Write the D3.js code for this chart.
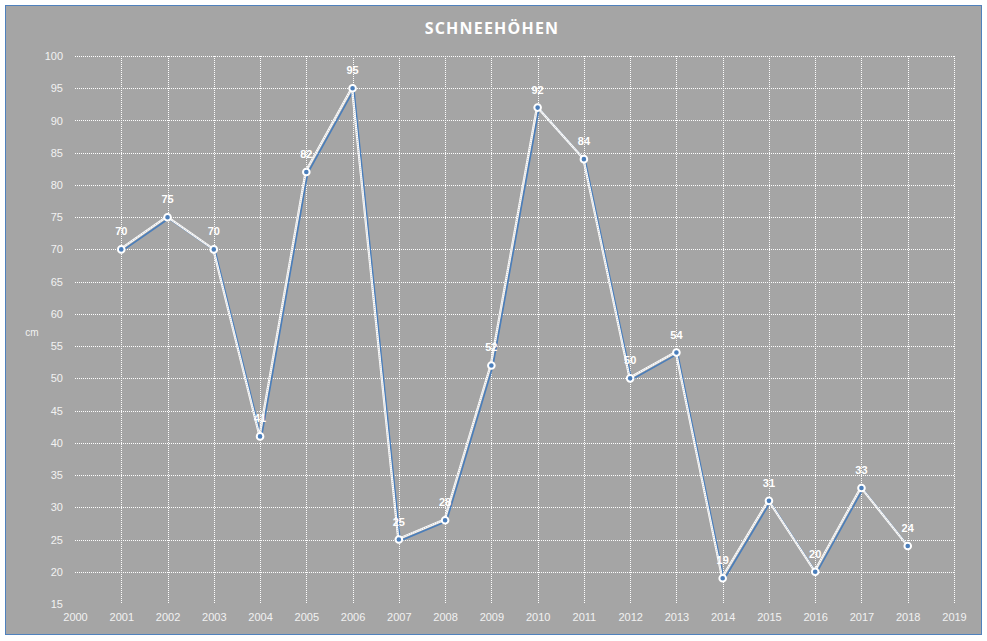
<!DOCTYPE html>
<html><head><meta charset="utf-8">
<script src="https://cdn.jsdelivr.net/npm/d3@7"></script>
<style>html,body{margin:0;padding:0;background:#fff;}svg{display:block;}</style>
</head><body>
<svg id="chart" width="987" height="641"></svg>
<script>
const title = "SCHNEEHÖHEN";
const yAxisLabel = "cm";
const years = [2001,2002,2003,2004,2005,2006,2007,2008,2009,2010,2011,2012,2013,2014,2015,2016,2017,2018];
const snowDepth = [70,75,70,41,82,95,25,28,52,92,84,50,54,19,31,20,33,24];
const xTicks = d3.range(2000, 2020);
const yTicks = d3.range(15, 101, 5);

const svg = d3.select("#chart");
const font = "'Liberation Sans', Arial, sans-serif";
const txt = "#f2f2f2";
const blue = "#4a7ebb";

svg.append("rect").attr("x",5.5).attr("y",5.5).attr("width",976).attr("height",629)
  .attr("fill","#a5a5a5").attr("stroke","#4f81bd").attr("stroke-width",1);

const x = d3.scaleLinear().domain([2000,2019]).range([75,954]);
const y = d3.scaleLinear().domain([15,100]).range([604,56]);

// gridlines
const g = svg.append("g");
g.selectAll("line.h").data(yTicks.filter(d=>d>15)).join("line")
  .attr("x1",75).attr("x2",954).attr("y1",d=>Math.round(y(d))+0.5).attr("y2",d=>Math.round(y(d))+0.5)
  .attr("stroke","#fff").attr("stroke-width",1).attr("stroke-dasharray","1,1");
g.selectAll("line.v").data(xTicks.filter(d=>d>2000)).join("line")
  .attr("y1",56).attr("y2",604).attr("x1",d=>Math.round(x(d))+0.5).attr("x2",d=>Math.round(x(d))+0.5)
  .attr("stroke","#fff").attr("stroke-width",1).attr("stroke-dasharray","1,1");

// axes (labels only)
const yAxis = d3.axisLeft(y).tickValues(yTicks).tickSize(0).tickPadding(12);
const ya = svg.append("g").attr("transform","translate(75,0)").call(yAxis);
ya.select(".domain").remove();
ya.selectAll("text").attr("fill",txt).style("font-family",font).style("font-size","11px");

const xAxis = d3.axisBottom(x).tickValues(xTicks).tickFormat(d3.format("d")).tickSize(0).tickPadding(9);
const xa = svg.append("g").attr("transform","translate(0,604)").call(xAxis);
xa.select(".domain").remove();
xa.selectAll("text").attr("fill",txt).style("font-family",font).style("font-size","11px");

// title
svg.append("text").attr("x",492).attr("y",34).attr("text-anchor","middle")
  .attr("fill","#fff").style("font-family","'Open Sans', sans-serif").style("font-weight","bold")
  .style("font-size","16px").style("letter-spacing","1.2px").text(title);

svg.append("text").attr("x",32).attr("y",336).attr("text-anchor","middle")
  .attr("fill",txt).style("font-family",font).style("font-size","10px").text(yAxisLabel);

const data = years.map((yr,i)=>({yr, v:snowDepth[i]}));
const line = d3.line().x(d=>x(d.yr)).y(d=>y(d.v));

svg.append("path").datum(data).attr("d",line).attr("fill","none")
  .attr("stroke",blue).attr("stroke-width",1.6).attr("transform","translate(1.3,1.3)");
svg.append("path").datum(data).attr("d",line).attr("fill","none")
  .attr("stroke","#fff").attr("stroke-width",2.2).attr("transform","translate(-0.6,-0.6)");
svg.append("path").datum(data).attr("d",line).attr("fill","none")
  .attr("stroke","#9a9a9a").attr("stroke-width",0.6).attr("stroke-dasharray","1,1").attr("transform","translate(-0.6,-0.6)");

svg.selectAll("circle.m").data(data).join("circle")
  .attr("cx",d=>x(d.yr)).attr("cy",d=>y(d.v)).attr("r",3.3)
  .attr("fill",blue).attr("stroke","#fff").attr("stroke-width",2);

svg.selectAll("text.lbl").data(data).join("text")
  .attr("x",d=>x(d.yr)).attr("y",d=>y(d.v)-14).attr("text-anchor","middle")
  .attr("fill","#fff").style("font-family",font).style("font-weight","bold").style("font-size","11px")
  .text(d=>d.v);
</script>
</body></html>
